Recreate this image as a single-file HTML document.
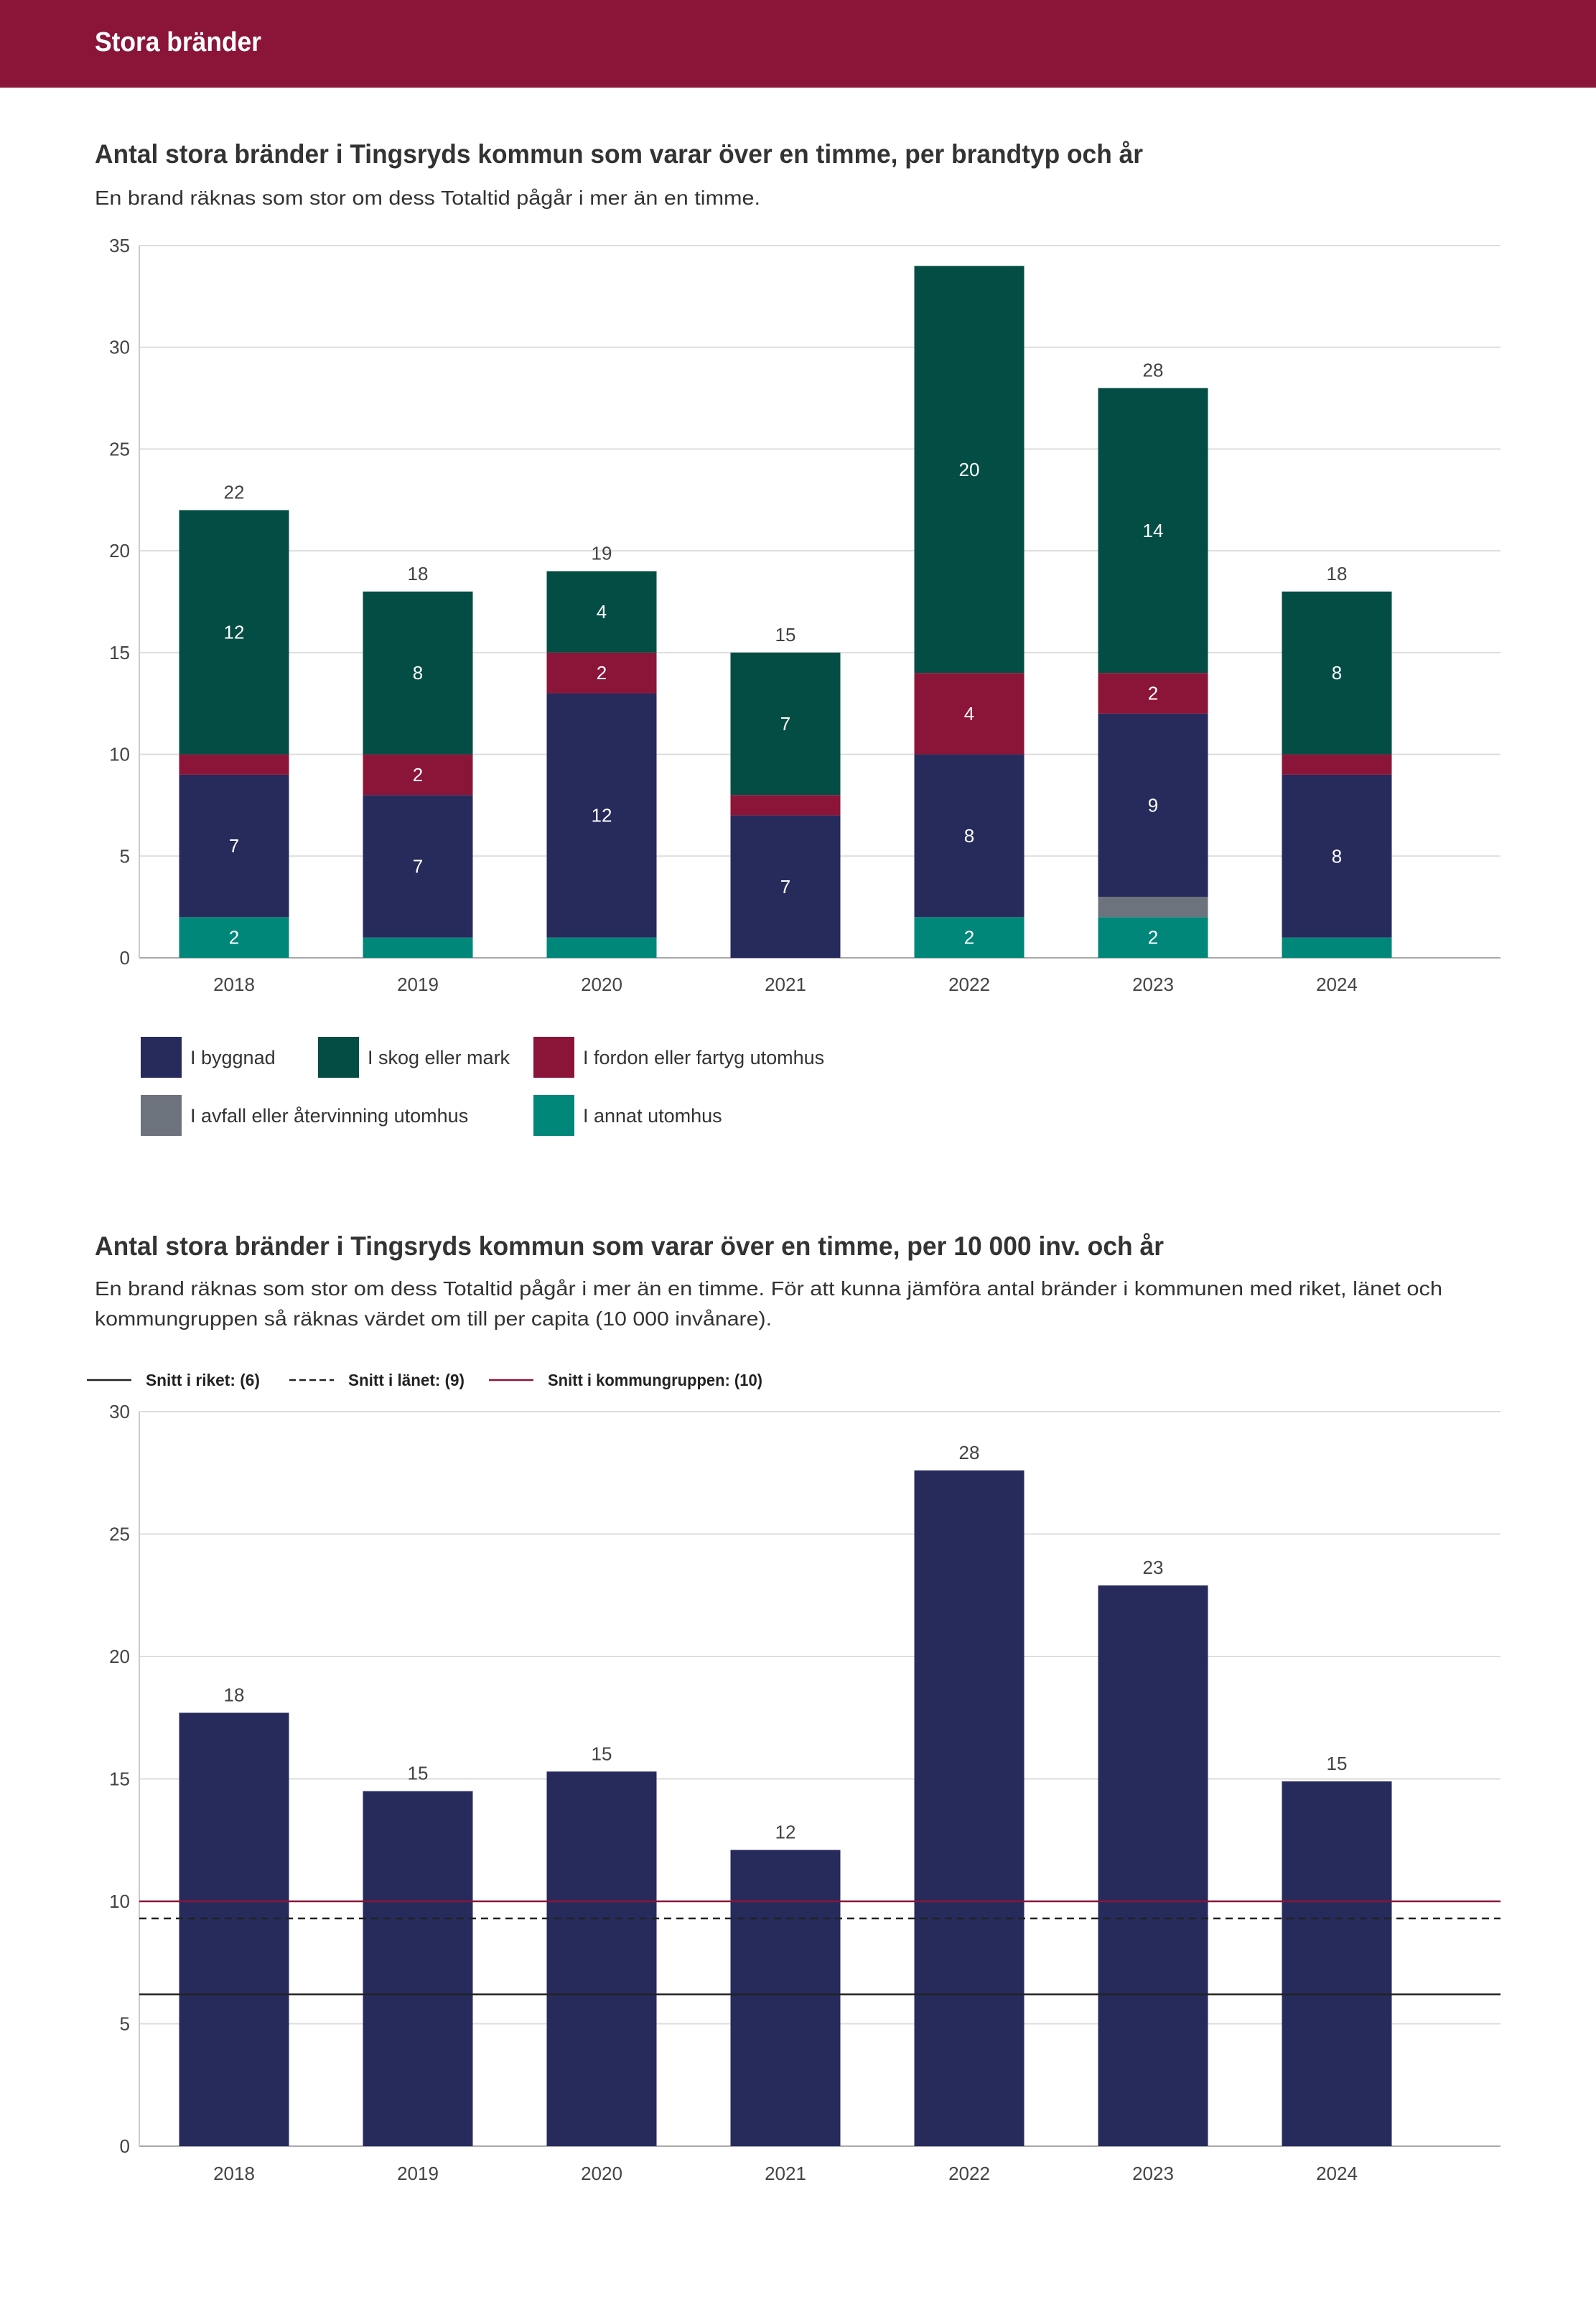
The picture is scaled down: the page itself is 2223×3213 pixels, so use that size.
<!DOCTYPE html>
<html><head><meta charset="utf-8"><style>
html,body{margin:0;padding:0;background:#fff}
svg{display:block;font-family:"Liberation Sans",sans-serif}
</style></head><body>
<svg id="s" width="2223" height="3213" viewBox="0 0 2223 3213" xmlns="http://www.w3.org/2000/svg">
<rect x="0" y="0" width="2223" height="122" fill="#8b1538"/>
<text x="132" y="71" font-size="38" font-weight="bold" fill="#fff" textLength="232" lengthAdjust="spacingAndGlyphs">Stora bränder</text>
<text x="132" y="227" font-size="37" font-weight="bold" fill="#333" textLength="1460" lengthAdjust="spacingAndGlyphs">Antal stora bränder i Tingsryds kommun som varar över en timme, per brandtyp och år</text>
<text x="132" y="285" font-size="28" fill="#333" textLength="927" lengthAdjust="spacingAndGlyphs">En brand räknas som stor om dess Totaltid pågår i mer än en timme.</text>
<g id="c1"></g>
<g id="leg1"></g>
<text x="132" y="1748" font-size="37" font-weight="bold" fill="#333" textLength="1489" lengthAdjust="spacingAndGlyphs">Antal stora bränder i Tingsryds kommun som varar över en timme, per 10 000 inv. och år</text>
<text x="132" y="1804" font-size="28" fill="#333" textLength="1877" lengthAdjust="spacingAndGlyphs">En brand räknas som stor om dess Totaltid pågår i mer än en timme. För att kunna jämföra antal bränder i kommunen med riket, länet och</text>
<text x="132" y="1846" font-size="28" fill="#333" textLength="943" lengthAdjust="spacingAndGlyphs">kommungruppen så räknas värdet om till per capita (10 000 invånare).</text>
<g id="leg2"></g>
<g id="c2"></g>
</svg>
<script>
const years=["2018","2019","2020","2021","2022","2023","2024"];
const annat=[2,1,1,0,2,2,1];
const avfall=[0,0,0,0,0,1,0];
const byggnad=[7,7,12,7,8,9,8];
const fordon=[1,2,2,1,4,2,1];
const skog=[12,8,4,7,20,14,8];
const ticks1=[0,5,10,15,20,25,30,35];
const perCapita=[17.7,14.5,15.3,12.1,27.6,22.9,14.9];
const ticks2=[0,5,10,15,20,25,30];
const refRiket=6.2, refLanet=9.3, refGrupp=10;

const NS="http://www.w3.org/2000/svg";
function el(tag,attrs,parent,text){const e=document.createElementNS(NS,tag);for(const k in attrs)e.setAttribute(k,attrs[k]);if(text!==undefined)e.textContent=text;parent.appendChild(e);return e;}
const X0=194,X1=2090,step=256,bw=153,firstC=326;
const xc=i=>firstC+i*step;

// chart 1
const c1=document.getElementById('c1');
const top1=342,bot1=1334,max1=35;
const y1=v=>bot1-(v/max1)*(bot1-top1);
ticks1.forEach(t=>{
 const g=el('line',{x1:X0,x2:X1,y1:y1(t),y2:y1(t),stroke:t===0?'#aaa':'#ddd','stroke-width':2},c1);
 
 
 const l=el('text',{x:181,y:y1(t)+9,'font-size':26,fill:'#444','text-anchor':'end'},c1,String(t));
 
 
});
const ax=el('line',{x1:X0,x2:X0,y1:top1,y2:bot1,stroke:'#ccc','stroke-width':2},c1);


const series=[[annat,'#00877a','annat'],[avfall,'#6d737c','avfall'],[byggnad,'#262b5c','byggnad'],[fordon,'#8b1538','fordon'],[skog,'#034d44','skog']];
years.forEach((yr,i)=>{
 let acc=0;
 series.forEach(([arr,col,nm])=>{
  const v=arr[i]; if(!v)return;
  const r=el('rect',{x:xc(i)-bw/2,y:y1(acc+v),width:bw,height:y1(acc)-y1(acc+v),fill:col},c1);
  
  
  if(v>=2){const t=el('text',{x:xc(i),y:(y1(acc)+y1(acc+v))/2+9,'font-size':26,fill:'#fff','text-anchor':'middle'},c1,String(v));
   
   }
  acc+=v;
 });
 if(acc<max1-1){const t=el('text',{x:xc(i),y:y1(acc)-16,'font-size':26,fill:'#444','text-anchor':'middle'},c1,String(acc));
  
  }
 const xl=el('text',{x:xc(i),y:1380,'font-size':26,fill:'#444','text-anchor':'middle'},c1,yr);
 
 
});
// legend 1
const leg1=document.getElementById('leg1');
[[196,1444,'#262b5c','I byggnad'],[443,1444,'#034d44','I skog eller mark'],[743,1444,'#8b1538','I fordon eller fartyg utomhus'],[196,1525,'#6d737c','I avfall eller återvinning utomhus'],[743,1525,'#00877a','I annat utomhus']].forEach(([x,y,c,t])=>{
 const r=el('rect',{x:x,y:y,width:57,height:57,fill:c},leg1);
 
 
 const tx=el('text',{x:x+69,y:y+38,'font-size':27,fill:'#333'},leg1,t);
 
 
});
// legend 2
const leg2=document.getElementById('leg2');
[[121,null,'#222','Snitt i riket: (6)',159],[403,'9,5','#222','Snitt i länet: (9)',162],[681,null,'#8b1538','Snitt i kommungruppen: (10)',299]].forEach(([x,d,c,t,w])=>{
 const a={x1:x,x2:x+62,y1:1922,y2:1922,stroke:c,'stroke-width':2.5};if(d)a['stroke-dasharray']=d;
 const l=el('line',a,leg2);
 
 
 const tx=el('text',{x:x+82,y:1930,'font-size':23,'font-weight':'bold',fill:'#222',textLength:w,lengthAdjust:'spacingAndGlyphs'},leg2,t);
 
 
});
// chart 2
const c2=document.getElementById('c2');
const top2=1966,bot2=2989,max2=30;
const y2=v=>bot2-(v/max2)*(bot2-top2);
ticks2.forEach(t=>{
 const g=el('line',{x1:X0,x2:X1,y1:y2(t),y2:y2(t),stroke:t===0?'#aaa':'#ddd','stroke-width':2},c2);
 
 
 const l=el('text',{x:181,y:y2(t)+9,'font-size':26,fill:'#444','text-anchor':'end'},c2,String(t));
 
 
});
const ax2=el('line',{x1:X0,x2:X0,y1:top2,y2:bot2,stroke:'#ccc','stroke-width':2},c2);


years.forEach((yr,i)=>{
 const v=perCapita[i];
 const r=el('rect',{x:xc(i)-bw/2,y:y2(v),width:bw,height:bot2-y2(v),fill:'#262b5c'},c2);
 
 
 const t=el('text',{x:xc(i),y:y2(v)-16,'font-size':26,fill:'#444','text-anchor':'middle'},c2,String(Math.round(v)));
 
 
 const xl=el('text',{x:xc(i),y:3036,'font-size':26,fill:'#444','text-anchor':'middle'},c2,yr);
 
 
});
[[refGrupp,'#8b1538',null,'ref-line-kommungrupp'],[refLanet,'#222','10,7','ref-line-lanet'],[refRiket,'#222',null,'ref-line-riket']].forEach(([v,c,d,n])=>{
 const a={x1:X0,x2:X1,y1:y2(v),y2:y2(v),stroke:c,'stroke-width':2.5};if(d)a['stroke-dasharray']=d;
 const l=el('line',a,c2);
 
 
});
</script>
</body></html>
